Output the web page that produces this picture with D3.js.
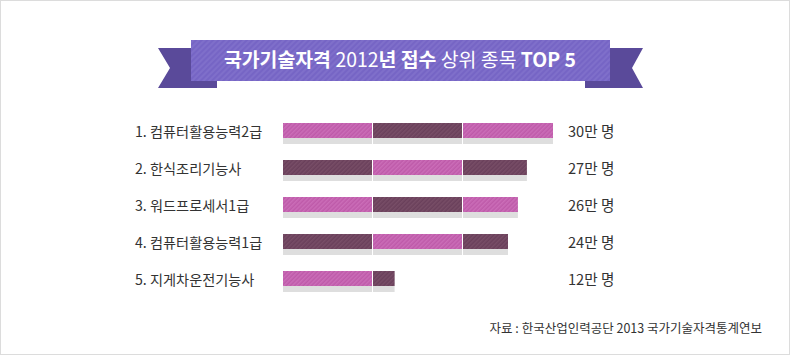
<!DOCTYPE html>
<html>
<head>
<meta charset="utf-8">
<script src="https://cdn.jsdelivr.net/npm/d3@7"></script>
<style>
  html, body { margin: 0; padding: 0; background: #fff; }
  svg { display: block; }
  text { font-family: "Noto Sans CJK KR", "Noto Sans", sans-serif; }
</style>
</head>
<body>
<svg id="chart" width="790" height="355"></svg>
<script>
// ---- data ----
const categories = ["1. 컴퓨터활용능력2급", "2. 한식조리기능사", "3. 워드프로세서1급", "4. 컴퓨터활용능력1급", "5. 지게차운전기능사"];
const values = [30, 27.1, 26.1, 25, 12.4];           // 만 명 (bar length as drawn)
const valueLabels = ["30만 명", "27만 명", "26만 명", "24만 명", "12만 명"];
const segmentSize = 10;
const titleParts = [
  { t: "국가기술자격 ", w: 700 },
  { t: "2012", w: 400 },
  { t: "년 ", w: 700 },
  { t: "접수 ", w: 700 },
  { t: "상위 종목 ", w: 400 },
  { t: "TOP 5", w: 700 }
];
const sourceText = "자료 : 한국산업인력공단 2013 국가기술자격통계연보";

// ---- setup ----
const svg = d3.select("#chart");
const W = 790, H = 355;

svg.append("rect").attr("x", 0.5).attr("y", 0.5).attr("width", W - 1).attr("height", H - 1)
  .attr("fill", "#fff").attr("stroke", "#dcdcdc");

const defs = svg.append("defs");
function hatch(id, base, stripe, size) {
  const p = defs.append("pattern").attr("id", id).attr("patternUnits", "userSpaceOnUse")
    .attr("width", size).attr("height", size).attr("patternTransform", "rotate(45)");
  p.append("rect").attr("width", size).attr("height", size).attr("fill", base);
  p.append("rect").attr("width", size / 2).attr("height", size).attr("fill", stripe);
}
hatch("pinkHatch", "#be5aa9", "#cb6db8", 3);
hatch("darkHatch", "#6a405b", "#784e67", 3);
hatch("bannerHatch", "#7665c5", "#7f6fca", 4);

// ---- banner ----
const banner = svg.append("g");
const tailColor = "#5a4a9a";
banner.append("polygon").attr("fill", tailColor)
  .attr("points", [[158,48],[217,48],[217,88],[158,88],[170,68]].map(p => p.join(",")).join(" "));
banner.append("polygon").attr("fill", tailColor)
  .attr("points", [[585,48],[643,48],[632,68],[643,88],[585,88]].map(p => p.join(",")).join(" "));
banner.append("rect").attr("x", 191).attr("y", 40).attr("width", 419).attr("height", 41)
  .attr("fill", "url(#bannerHatch)");
const title = banner.append("text").attr("x", 400).attr("y", 67).attr("text-anchor", "middle")
  .attr("fill", "#fff").attr("font-size", 19.4);
title.selectAll("tspan").data(titleParts).join("tspan")
  .attr("font-weight", d => d.w).text(d => d.t);

// ---- scales ----
const x = d3.scaleLinear().domain([0, 30]).range([283, 553]);
const y = d3.scaleBand().domain(categories).range([123, 286]).paddingInner(22 / 37).paddingOuter(0);
const barH = y.bandwidth();

// ---- rows ----
const rows = svg.append("g").selectAll("g").data(categories).join("g");

rows.append("text")
  .attr("x", 135).attr("y", d => y(d) + 13.5)
  .attr("font-size", 14.2).attr("fill", "#333").text(d => d);

rows.append("text")
  .attr("x", 568).attr("y", (d, i) => y(d) + 13.5)
  .attr("font-size", 14.6).attr("fill", "#333").text((d, i) => valueLabels[i]);

rows.each(function (cat, i) {
  const v = values[i];
  const n = Math.ceil(v / segmentSize);
  const segs = d3.range(n).map(k => {
    const start = k * segmentSize;
    const end = Math.min(v, (k + 1) * segmentSize);
    const last = k === n - 1;
    return { k, x0: x(start), x1: x(end) - (last ? 0 : 1) };
  });
  const g = d3.select(this);
  g.selectAll("rect.shadow").data(segs).join("rect").attr("class", "shadow")
    .attr("x", s => s.x0).attr("y", y(cat)).attr("width", s => s.x1 - s.x0)
    .attr("height", barH + 6).attr("fill", "#dedede");
  g.selectAll("rect.seg").data(segs).join("rect").attr("class", "seg")
    .attr("x", s => s.x0).attr("y", y(cat)).attr("width", s => s.x1 - s.x0)
    .attr("height", barH)
    .attr("fill", s => ((i + s.k) % 2 === 0) ? "url(#pinkHatch)" : "url(#darkHatch)");
});

// ---- source ----
svg.append("text").attr("x", 762).attr("y", 333).attr("text-anchor", "end")
  .attr("font-size", 12.5).attr("fill", "#333").text(sourceText);
</script>
</body>
</html>
